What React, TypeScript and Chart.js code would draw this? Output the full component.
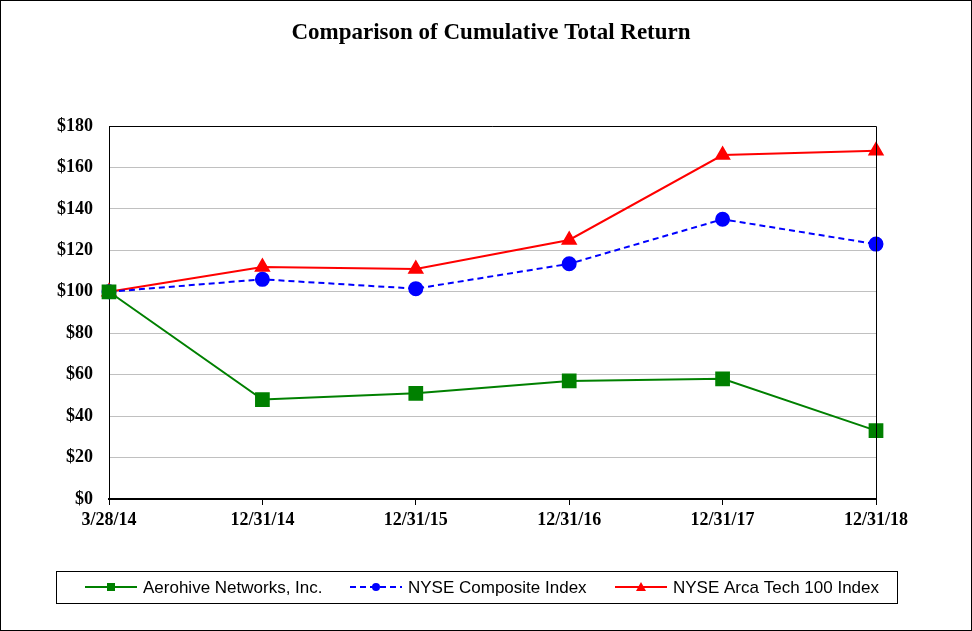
import React, { useEffect, useRef } from "react";
import { Chart, registerables } from "chart.js";

Chart.register(...registerables);

const categories = ["3/28/14", "12/31/14", "12/31/15", "12/31/16", "12/31/17", "12/31/18"];
const aerohive = [100, 48, 51, 57, 58, 33];
const nyseComposite = [100, 106, 101.5, 113.5, 135, 123];
const nyseArcaTech = [100, 112, 111, 125, 166, 168];
const seriesNames = ["Aerohive Networks, Inc.", "NYSE Composite Index", "NYSE Arca Tech 100 Index"];
const titleText = "Comparison of Cumulative Total Return";

const W = 972;
const H = 631;

const framePlugin = {
  id: "frame",
  afterDraw(chart: any) {
    const ctx = chart.ctx;
    const a = chart.chartArea;
    ctx.save();
    ctx.strokeStyle = "#000";
    ctx.lineWidth = 1;
    ctx.strokeRect(0.5, 0.5, W - 1, H - 1);
    ctx.beginPath();
    ctx.moveTo(a.left, a.top + 0.5);
    ctx.lineTo(a.right + 0.5, a.top + 0.5);
    ctx.lineTo(a.right + 0.5, a.bottom);
    ctx.stroke();
    ctx.fillStyle = "#000";
    ctx.font = "bold 23px 'Liberation Serif', 'Times New Roman', serif";
    ctx.textAlign = "center";
    ctx.textBaseline = "middle";
    ctx.fillText(titleText, 491, 33);
    ctx.strokeRect(56.5, 571.5, 841, 32);
    const items = [
      { x: 85, tx: 143 },
      { x: 350, tx: 408 },
      { x: 615, tx: 673 },
    ];
    const ly = 587;
    items.forEach((it, i) => {
      const ds = chart.data.datasets[i];
      ctx.save();
      ctx.strokeStyle = ds.borderColor;
      ctx.lineWidth = 2;
      ctx.setLineDash(ds.borderDash || []);
      ctx.beginPath();
      ctx.moveTo(it.x, ly);
      ctx.lineTo(it.x + 52, ly);
      ctx.stroke();
      ctx.restore();
      ctx.fillStyle = ds.borderColor;
      const cx = it.x + 26;
      if (i === 0) {
        ctx.fillRect(cx - 4, ly - 4, 8, 8);
      } else if (i === 1) {
        ctx.beginPath();
        ctx.arc(cx, ly, 4, 0, Math.PI * 2);
        ctx.fill();
      } else {
        ctx.beginPath();
        ctx.moveTo(cx, ly - 5);
        ctx.lineTo(cx + 5, ly + 4);
        ctx.lineTo(cx - 5, ly + 4);
        ctx.closePath();
        ctx.fill();
      }
      ctx.fillStyle = "#000";
      ctx.font = "17px 'Liberation Sans', Arial, sans-serif";
      ctx.textAlign = "left";
      ctx.textBaseline = "middle";
      ctx.fillText(seriesNames[i], it.tx, ly + 1);
    });
    ctx.restore();
  },
};

export default function App() {
  const ref = useRef<HTMLCanvasElement>(null);
  useEffect(() => {
    if (!ref.current) return;
    const chart = new Chart(ref.current, {
      type: "line",
      data: {
        labels: categories,
        datasets: [
          {
            label: seriesNames[0],
            data: aerohive,
            borderColor: "#008000",
            backgroundColor: "#008000",
            borderWidth: 2,
            pointStyle: "rect",
            pointRadius: 9,
            pointHoverRadius: 9,
            tension: 0,
          },
          {
            label: seriesNames[1],
            data: nyseComposite,
            borderColor: "#0000FF",
            backgroundColor: "#0000FF",
            borderWidth: 2,
            borderDash: [6, 4],
            pointStyle: "circle",
            pointRadius: 6.5,
            pointHoverRadius: 6.5,
            tension: 0,
          },
          {
            label: seriesNames[2],
            data: nyseArcaTech,
            borderColor: "#FF0000",
            backgroundColor: "#FF0000",
            borderWidth: 2,
            pointStyle: "triangle",
            pointRadius: 7.5,
            pointHoverRadius: 7.5,
            tension: 0,
          },
        ],
      },
      options: {
        animation: false,
        responsive: false,
        devicePixelRatio: 1,
        layout: { padding: { top: 126, right: 96, left: 0, bottom: 0 } },
        plugins: {
          legend: { display: false },
          title: { display: false },
          tooltip: { enabled: false },
        },
        scales: {
          x: {
            type: "category",
            offset: false,
            afterFit: (s: any) => {
              s.height = 132;
            },
            grid: {
              display: true,
              drawOnChartArea: false,
              drawTicks: true,
              tickLength: 6,
              tickColor: "#000",
              tickWidth: 1,
            },
            border: { display: true, color: "#000", width: 2 },
            ticks: {
              color: "#000",
              padding: 5,
              maxRotation: 0,
              autoSkip: false,
              font: { family: "'Liberation Serif', 'Times New Roman', serif", size: 18, weight: "bold" },
            },
          },
          y: {
            min: 0,
            max: 180,
            afterFit: (s: any) => {
              s.width = 109;
            },
            grid: {
              color: "#c0c0c0",
              lineWidth: 1,
              drawTicks: false,
            },
            border: { display: true, color: "#000", width: 1 },
            ticks: {
              stepSize: 20,
              color: "#000",
              padding: 16,
              font: { family: "'Liberation Serif', 'Times New Roman', serif", size: 18, weight: "bold" },
              callback: (v: any) => "$" + v,
            },
          },
        },
      },
      plugins: [framePlugin],
    });
    return () => chart.destroy();
  }, []);
  return (
    <div style={{ position: "fixed", left: 0, top: 0, width: W, height: H, background: "#fff" }}>
      <canvas ref={ref} width={W} height={H} style={{ width: W, height: H, display: "block" }} />
    </div>
  );
}
